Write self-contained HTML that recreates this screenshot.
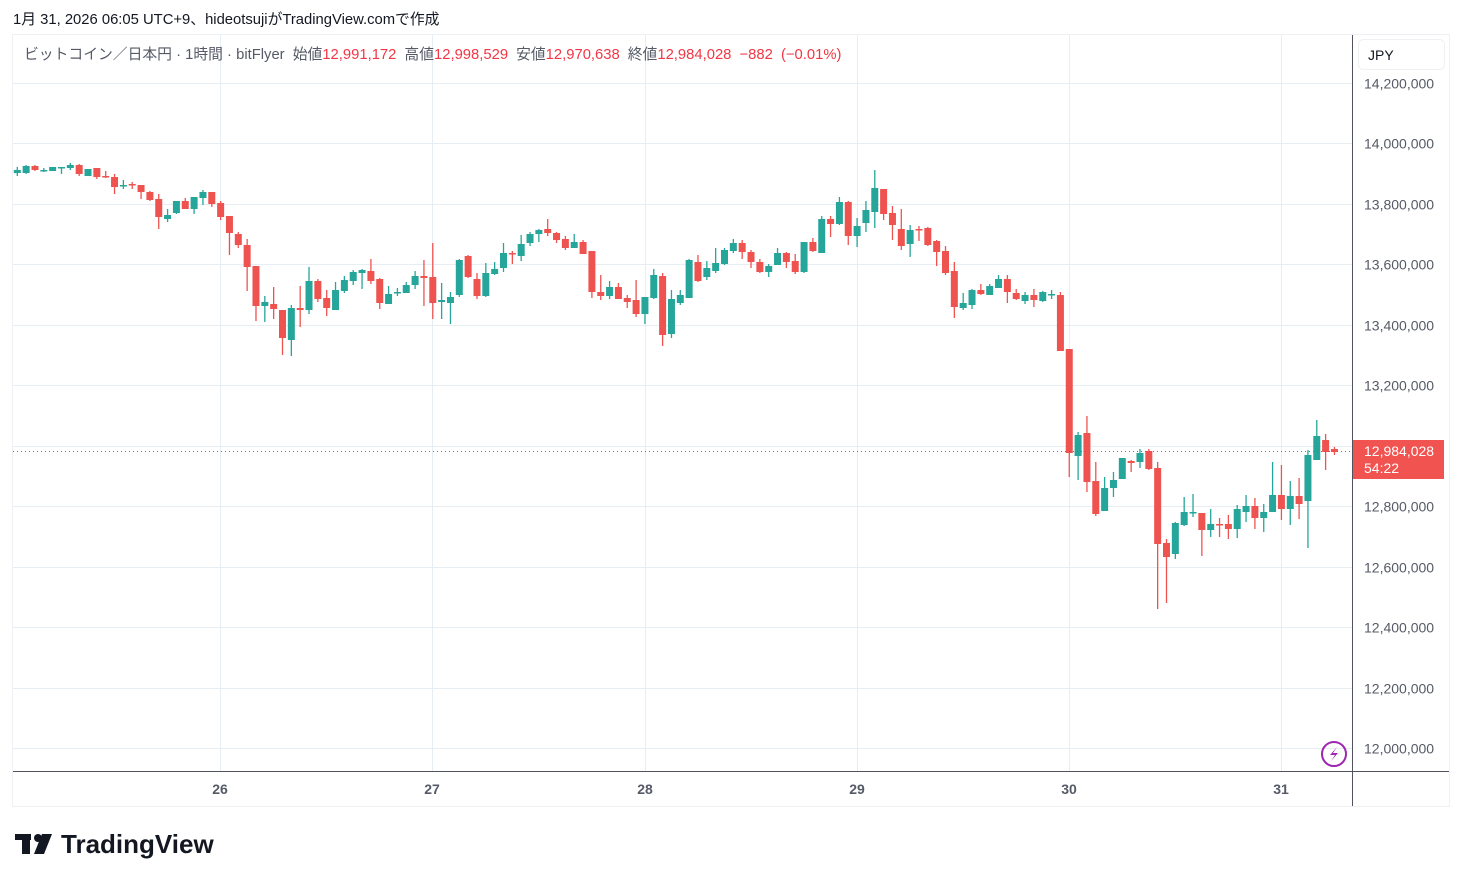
<!DOCTYPE html>
<html><head><meta charset="utf-8"><style>
html,body{margin:0;padding:0;background:#fff;width:1462px;height:881px;overflow:hidden;font-family:"Liberation Sans","Noto Sans CJK JP",sans-serif;}
svg text{font-family:"Liberation Sans","Noto Sans CJK JP",sans-serif;}
</style></head><body>
<svg id="s" width="1462" height="881" xmlns="http://www.w3.org/2000/svg">
<rect x="12.5" y="34.5" width="1437" height="772" fill="#fff" stroke="#eef0f3"/>
<g id="grid" stroke="#e6edf3" stroke-width="1"></g>
<g id="c"></g>
<line x1="13" y1="451.5" x2="1352" y2="451.5" stroke="#f23645" stroke-dasharray="1,3" stroke-width="1"/>
<line x1="1352.5" y1="35" x2="1352.5" y2="806" stroke="#50535e"/>
<line x1="13" y1="771.5" x2="1449" y2="771.5" stroke="#50535e"/>
<text x="13" y="24" font-size="14.8" fill="#131722">1月 31, 2026 06:05 UTC+9、hideotsujiがTradingView.comで作成</text>
<text x="24" y="59" font-size="14.8" fill="#555a66">ビットコイン／日本円 · 1時間 · bitFlyer <tspan dx="4">始値</tspan><tspan fill="#f23645">12,991,172</tspan><tspan dx="8">高値</tspan><tspan fill="#f23645">12,998,529</tspan><tspan dx="8">安値</tspan><tspan fill="#f23645">12,970,638</tspan><tspan dx="8">終値</tspan><tspan fill="#f23645">12,984,028 <tspan dx="4">−882</tspan> <tspan dx="4">(−0.01%)</tspan></tspan></text>
<rect x="1358.5" y="39.5" width="86" height="30" rx="5" fill="#fff" stroke="#eef0f3"/>
<text x="1368" y="60" font-size="14" fill="#131722">JPY</text>
<g id="ax" font-size="14" fill="#555a66"></g>
<g font-size="14" fill="#555a66" font-weight="bold" text-anchor="middle">
<text x="220" y="794">26</text><text x="432" y="794">27</text><text x="645" y="794">28</text><text x="857" y="794">29</text><text x="1069" y="794">30</text><text x="1281" y="794">31</text>
</g>
<rect x="1353" y="440" width="91" height="39" fill="#f05350"/>
<text x="1364" y="456" font-size="14" fill="#fff">12,984,028</text>
<text x="1364" y="473" font-size="14" fill="#fff">54:22</text>
<circle cx="1334" cy="754" r="12" fill="none" stroke="#9c27b0" stroke-width="2"/>
<path d="M1337 747 L1330 755 L1335 755 L1331 761 L1338 753 L1333 753 Z" fill="#9c27b0"/>
<g fill="#131722">
<rect x="15" y="834" width="16" height="6"/><rect x="22" y="834" width="8" height="20"/>
<circle cx="38" cy="838" r="4"/><path d="M42 834 L52 834 L44 854 L34 854 Z"/>
</g>
<text x="61" y="853" font-size="26" font-weight="bold" fill="#131722">TradingView</text>
</svg>
<script>
var ns="http://www.w3.org/2000/svg",g=document.getElementById('grid'),ax=document.getElementById('ax'),cg=document.getElementById('c');
function el(p,t,a){var e=document.createElementNS(ns,t);for(var k in a)e.setAttribute(k,a[k]);p.appendChild(e);return e;}
var labels=["14,200,000","14,000,000","13,800,000","13,600,000","13,400,000","13,200,000","13,000,000","12,800,000","12,600,000","12,400,000","12,200,000","12,000,000"];
for(var i=0;i<12;i++){var y=Math.round(83+i*60.45)+0.5;el(g,'line',{x1:13,y1:y,x2:1352,y2:y});
 if(i!=6){var t=el(ax,'text',{x:1364,y:y+5});t.textContent=labels[i];}}
[220,432,645,857,1069,1281].forEach(function(x){el(g,'line',{x1:x+0.5,y1:35,x2:x+0.5,y2:771});});
var D=[
['g',170,173,167,176],['g',166,173,165,174],['r',166,170,165,171],['g',170,171,168,172],['g',167,171,167,171],['g',167,168,167,174],['g',165,168,163,170],['r',165,174,164,176],['g',169,176,169,176],['r',168,177,168,179],['r',176,177,171,178],['r',177,187,174,194],['g',185,186,180,189],['r',184,185,182,189],['r',185,192,185,199],['r',192,200,191,201],['r',199,217,194,229],['g',215,219,209,222],['g',201,213,201,214],['r',201,209,198,209],['g',197,209,197,214],['g',192,198,190,205],['r',192,204,192,207],['r',203,217,201,220],['r',216,233,216,255],['r',234,245,232,248],['r',245,267,239,291],
['r',266,306,266,321],['g',302,306,296,322],['r',304,309,287,319],['r',310,338,310,355],['g',308,340,305,356],['r',308,310,286,327],['g',281,310,267,314],['r',281,299,279,302],['r',298,308,290,316],['g',290,310,282,310],['g',280,291,276,293],['g',272,281,270,285],['g',270,273,269,289],['r',271,281,259,284],['r',279,303,278,309],['g',294,304,286,304],['g',292,293,288,296],['g',285,293,282,293],['g',276,285,271,289],['r',276,278,260,306],['r',277,303,243,319],['g',300,302,283,319],['g',297,303,292,324],['g',260,295,259,297],['r',256,277,255,278],['r',279,296,273,299],
['g',273,296,263,297],['g',269,274,262,275],['g',253,268,243,272],['r',253,254,251,264],['g',244,256,235,261],['g',234,243,232,246],['g',230,234,229,242],['r',229,233,219,236],['r',233,240,232,243],['r',239,248,236,250],['g',242,248,234,248],['r',242,254,240,254],['r',251,292,251,298],['r',292,296,275,300],['g',287,296,281,299],['r',287,299,283,299],['r',298,302,295,308],['r',300,314,280,317],['g',297,314,297,324],['g',275,298,269,299],['r',276,335,273,346],['g',299,334,290,338],['g',295,303,290,305],['g',260,298,259,298],['r',262,281,255,282],['g',268,277,261,280],
['g',263,271,248,273],['g',250,264,248,265],['g',243,251,239,253],['r',243,252,240,259],['r',252,262,250,268],['r',262,272,259,273],['g',266,272,264,277],['g',253,265,248,265],['r',253,262,252,268],['r',261,272,254,274],['g',242,272,242,273],['r',242,251,238,252],['g',219,253,216,253],['r',219,224,216,237],['g',202,224,197,225],['r',202,236,201,245],['g',226,236,218,247],['g',210,223,201,232],['g',188,212,170,228],['r',189,214,189,220],['r',213,225,206,240],['r',229,246,209,250],['g',230,244,225,257],['r',229,230,226,241],['r',228,245,227,246],['r',241,252,240,266],
['r',251,273,246,275],['r',271,307,262,318],['g',303,308,293,310],['g',290,305,289,309],['r',290,294,284,295],['g',286,295,284,295],['g',279,288,275,288],['r',279,292,275,303],['r',293,299,289,300],['g',295,301,292,304],['r',295,300,289,307],['g',292,301,291,302],['g',294,295,290,299],['r',295,351,292,351],['r',349,453,349,477],['g',435,456,432,480],['r',433,482,416,492],['r',481,514,462,516],['g',488,511,477,511],['g',480,488,472,497],['g',458,479,458,479],['r',461,463,460,472],['g',453,462,449,468],['r',451,469,449,470],
['r',468,544,462,609],['r',543,557,539,603],['g',523,554,522,559],['g',512,525,497,526],['g',512,513,494,517],['r',513,530,513,556],['g',524,530,509,537],['r',524,525,518,537],['r',524,529,515,539],['g',509,529,505,538],['g',506,512,495,522],['r',506,518,498,529],['g',512,518,504,532],['g',495,512,462,512],['r',495,509,465,520],['g',496,509,481,525],['r',496,504,478,519],['g',455,501,450,548],['g',436,460,420,460],['r',440,452,434,470],['r',449,452,447,455]];
D.forEach(function(d,i){var x=17.3+i*8.84,col=d[0]=='g'?'#26a69a':'#ef5350';
 el(cg,'line',{x1:x,y1:d[3],x2:x,y2:d[4],stroke:col,'stroke-width':1.3});
 el(cg,'rect',{x:x-3.5,y:d[1],width:7,height:Math.max(1.5,d[2]-d[1]),fill:col});});
</script>
</body></html>
